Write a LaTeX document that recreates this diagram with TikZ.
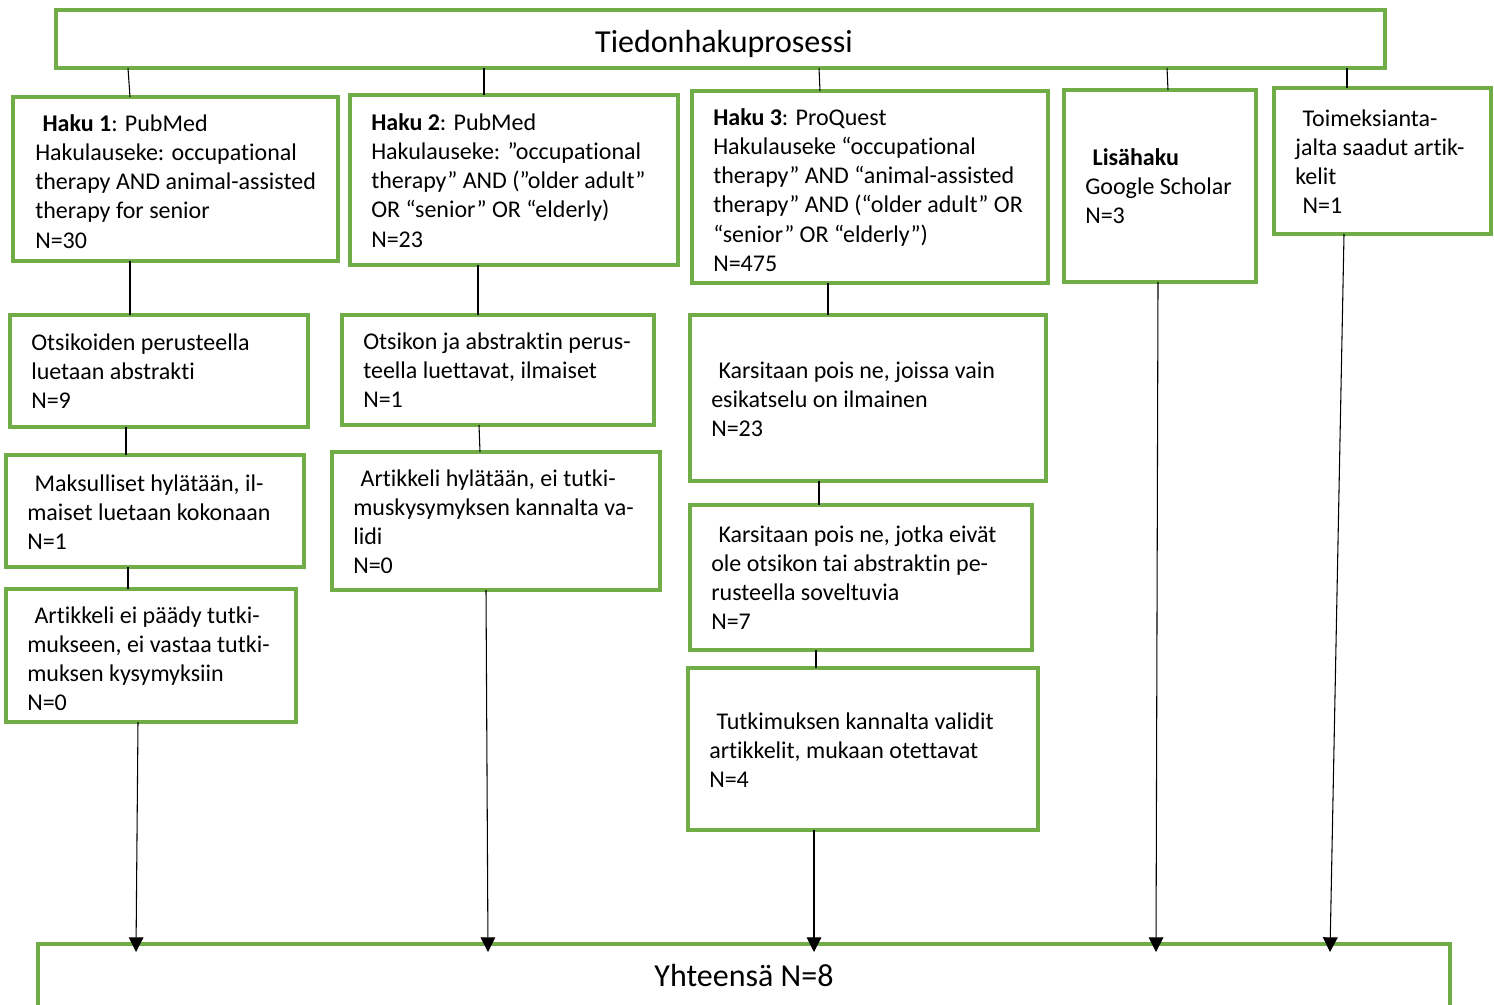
\documentclass[tikz,border=0pt]{standalone}
\usepackage{fontspec}
\setmainfont{Carlito}[Ligatures=NoCommon]
\usetikzlibrary{fit,calc,arrows.meta}
\definecolor{boxgreen}{HTML}{70AD47}
\newcommand\mytop{\rule{0pt}{15pt}}
\newcommand\lead{\hspace*{5.5pt}}
\begin{document}
\begin{tikzpicture}[x=0.75pt,y=-0.75pt,
 box/.style={draw=boxgreen, line width=2.4pt, inner sep=0pt, outer sep=0pt, fill=white},
 txt/.style={anchor=north west, inner sep=0pt, align=left, yshift=14.25pt, font=\fontsize{18}{21.9}\selectfont},
 big/.style={anchor=base, inner sep=0pt, font=\fontsize{24}{29}\selectfont},
 conn/.style={draw=black, line width=0.8pt},
 arr/.style={conn, -{Triangle[width=11pt,length=11pt]}}]
\useasboundingbox (0,0) rectangle (1494,1005);
\clip (0,0) rectangle (1494,1005);

% boxes
\node[box, fit={(56,10) (1385,68)}] (title) {};
\node[box, fit={(13,97) (338,261)}] (h1) {};
\node[box, fit={(350,95) (678,265)}] (h2) {};
\node[box, fit={(692,91) (1048,283)}] (h3) {};
\node[box, fit={(1064,90) (1256,282)}] (ls) {};
\node[box, fit={(1274,88) (1491,234)}] (tm) {};
\node[box, fit={(10,315) (308,427)}] (o1) {};
\node[box, fit={(342,315) (654,425)}] (o2) {};
\node[box, fit={(690,315) (1046,481)}] (k1) {};
\node[box, fit={(6,455) (304,567)}] (m1) {};
\node[box, fit={(332,452) (660,590)}] (a2) {};
\node[box, fit={(690,505) (1032,650)}] (k2) {};
\node[box, fit={(6,589) (296,722)}] (a1) {};
\node[box, fit={(688,668) (1038,830)}] (tu) {};
\node[box, fit={(38,944) (1450,1030)}] (yh) {};

% texts
\node[big] (ttitle) at (724,53) {Tiedonhakuprosessi};
\node[big] (ttotal) at (744,986) {Yhteensä N=8};
\node[txt] (th1) at (35,130) {\mytop\lead\textbf{Haku 1}: PubMed\\Hakulauseke: occupational\\therapy AND animal-assisted\\therapy for senior\\N=30};
\node[txt] (th2) at (371,129) {\mytop\textbf{Haku 2}: PubMed\\Hakulauseke: ”occupational\\therapy” AND (”older adult”\\OR “senior” OR “elderly)\\N=23};
\node[txt] (th3) at (713,124) {\mytop\textbf{Haku 3}: ProQuest\\Hakulauseke “occupational\\therapy” AND “animal-assisted\\therapy” AND (“older adult” OR\\“senior” OR “elderly”)\\N=475};
\node[txt] (tls) at (1085,164) {\mytop\lead\textbf{Lisähaku}\\Google Scholar\\N=3};
\node[txt] (ttm) at (1295,125) {\mytop\lead Toimeksianta-\\jalta saadut artik-\\kelit\\\lead N=1};
\node[txt] (to1) at (31,349) {\mytop Otsikoiden perusteella\\luetaan abstrakti\\N=9};
\node[txt] (to2) at (363,348) {\mytop Otsikon ja abstraktin perus-\\teella luettavat, ilmaiset\\N=1};
\node[txt] (tk1) at (711,377) {\mytop\lead Karsitaan pois ne, joissa vain\\esikatselu on ilmainen\\N=23};
\node[txt] (tm1) at (27,490) {\mytop\lead Maksulliset hylätään, il-\\maiset luetaan kokonaan\\N=1};
\node[txt] (ta2) at (353,485) {\mytop\lead Artikkeli hylätään, ei tutki-\\muskysymyksen kannalta va-\\lidi\\N=0};
\node[txt] (tk2) at (711,541) {\mytop\lead Karsitaan pois ne, jotka eivät\\ole otsikon tai abstraktin pe-\\rusteella soveltuvia\\N=7};
\node[txt] (ta1) at (27,622) {\mytop\lead Artikkeli ei päädy tutki-\\mukseen, ei vastaa tutki-\\muksen kysymyksiin\\N=0};
\node[txt] (ttu) at (709,728) {\mytop\lead Tutkimuksen kannalta validit\\artikkelit, mukaan otettavat\\N=4};

% connectors
\draw[conn] ($(title.south west)+(72,0)$) -- ($(h1.north west)+(117,0)$);
\draw[conn] ($(title.south west)+(428,0)$) -- ($(h2.north west)+(134,0)$);
\draw[conn] ($(title.south west)+(763,0)$) -- ($(h3.north west)+(128,0)$);
\draw[conn] ($(title.south west)+(1111,0)$) -- ($(ls.north west)+(104,0)$);
\draw[conn] ($(title.south west)+(1291,0)$) -- ($(tm.north west)+(73,0)$);
\draw[conn] ($(h1.south west)+(117,0)$) -- ($(o1.north west)+(120,0)$);
\draw[conn] ($(o1.south west)+(116,0)$) -- ($(m1.north west)+(120,0)$);
\draw[conn] ($(m1.south west)+(122,0)$) -- ($(a1.north west)+(122,0)$);
\draw[arr] ($(a1.south west)+(132,0)$) -- ($(yh.north west)+(98,8)$);
\draw[conn] ($(h2.south west)+(128,0)$) -- ($(o2.north west)+(136,0)$);
\draw[conn] ($(o2.south west)+(137,0)$) -- ($(a2.north west)+(148,0)$);
\draw[arr] ($(a2.south west)+(154,0)$) -- ($(yh.north west)+(450,8)$);
\draw[conn] ($(h3.south west)+(136,0)$) -- ($(k1.north west)+(138,0)$);
\draw[conn] ($(k1.south west)+(129,0)$) -- ($(k2.north west)+(129,0)$);
\draw[conn] ($(k2.south west)+(126,0)$) -- ($(tu.north west)+(128,0)$);
\draw[arr] ($(tu.south west)+(126,0)$) -- ($(yh.north west)+(776,8)$);
\draw[arr] ($(ls.south west)+(94,0)$) -- ($(yh.north west)+(1118,8)$);
\draw[arr] ($(tm.south west)+(70,0)$) -- ($(yh.north west)+(1292,8)$);
\end{tikzpicture}
\end{document}
